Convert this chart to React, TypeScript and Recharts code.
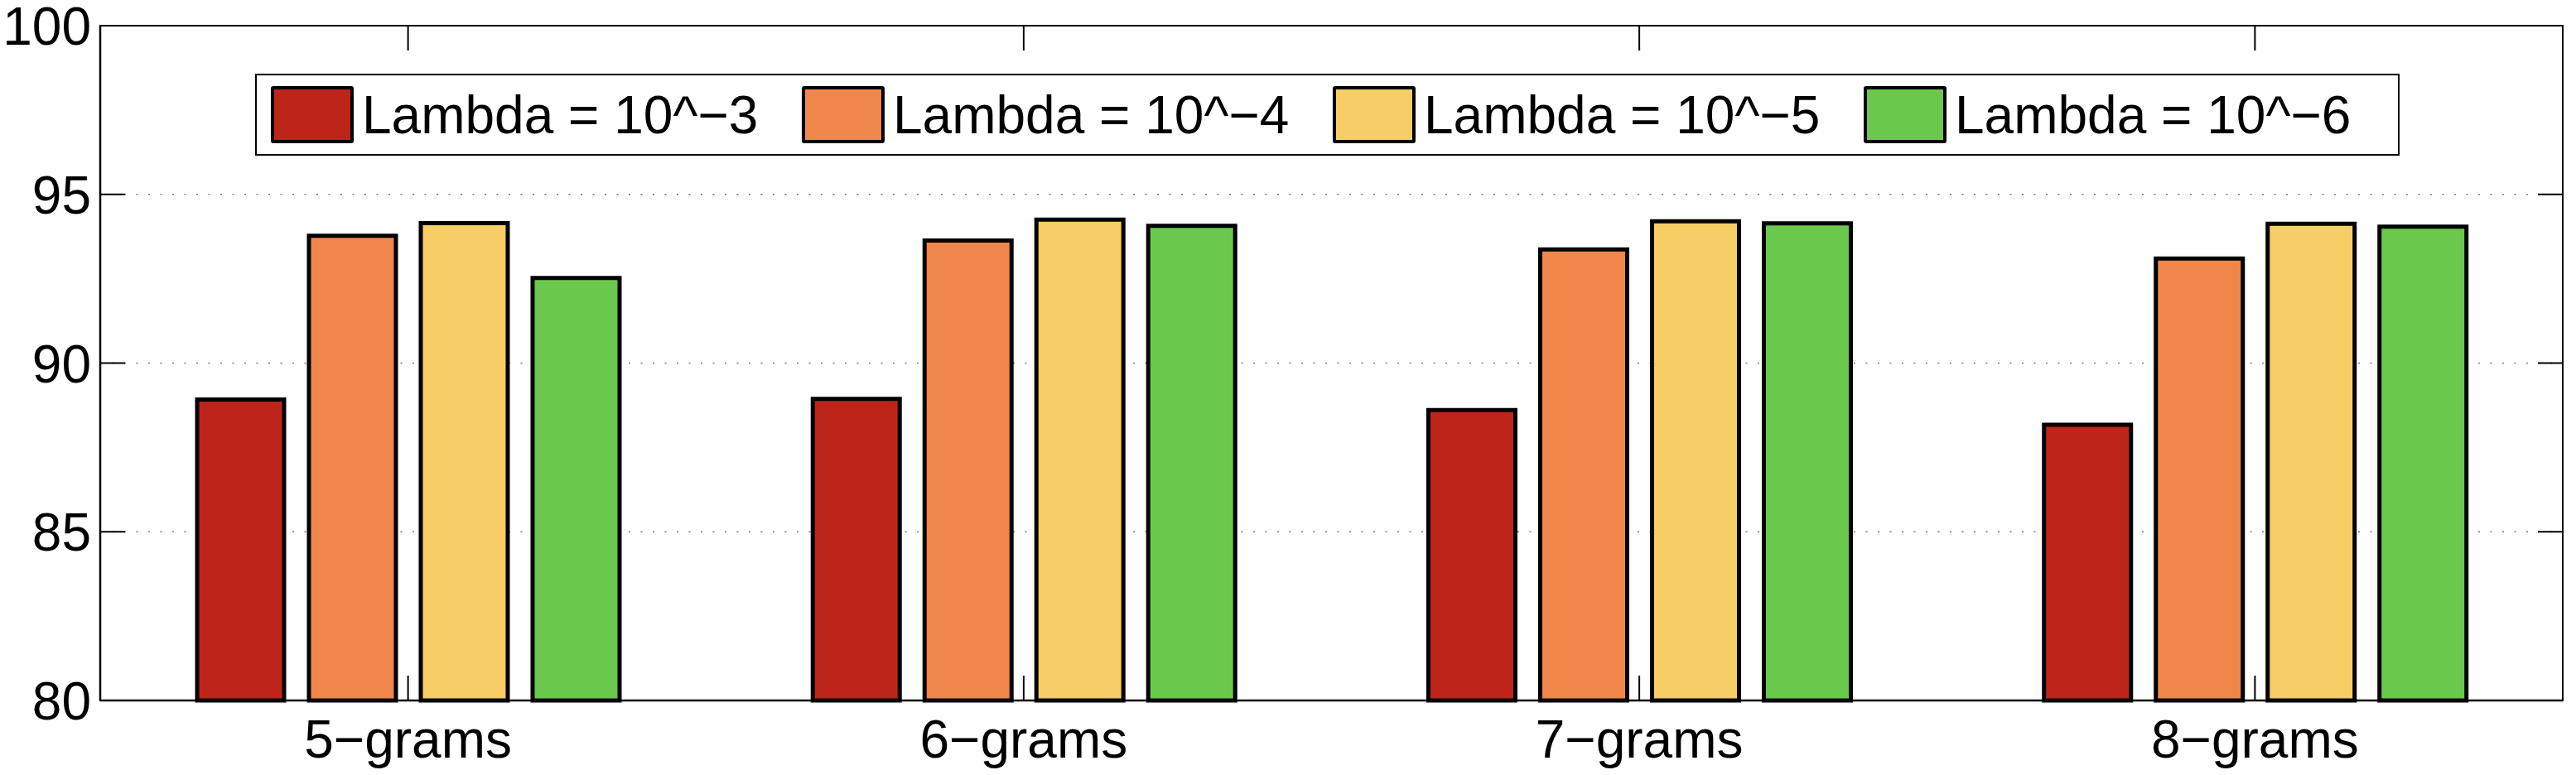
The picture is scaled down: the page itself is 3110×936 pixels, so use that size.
import { BarChart, Bar, XAxis, YAxis, CartesianGrid, Legend } from 'recharts'

const categories = ['5−grams', '6−grams', '7−grams', '8−grams']
const seriesNames = ['Lambda = 10^−3', 'Lambda = 10^−4', 'Lambda = 10^−5', 'Lambda = 10^−6']
const seriesKeys = ['l3', 'l4', 'l5', 'l6']
const seriesColors = ['#BD251B', '#F0874A', '#F7CD66', '#6AC94D']

const lambda3 = [88.92, 88.94, 88.61, 88.17]
const lambda4 = [93.77, 93.63, 93.37, 93.1]
const lambda5 = [94.15, 94.25, 94.2, 94.13]
const lambda6 = [92.52, 94.07, 94.14, 94.04]

const yTicks = [80, 85, 90, 95, 100]

const data = categories.map((name, i) => ({
  name,
  l3: lambda3[i],
  l4: lambda4[i],
  l5: lambda5[i],
  l6: lambda6[i],
}))

const FONT = '"Liberation Sans", Arial, Helvetica, sans-serif'
const W = 3110
const H = 936
const M = { top: 31, right: 16, bottom: 0, left: 0 }
const Y_AXIS_W = 121
const X_AXIS_H = 90
const PLOT_TOP = M.top
const PLOT_RIGHT = W - M.right
const TICK_LEN = 30

// matlab style: tick marks point inward, mirrored on the top edge
const XTick = ({ x, y, payload }: any) => (
  <g>
    <line x1={x} y1={y} x2={x} y2={y - TICK_LEN} stroke="#000" strokeWidth={2} />
    <line x1={x} y1={PLOT_TOP} x2={x} y2={PLOT_TOP + TICK_LEN} stroke="#000" strokeWidth={2} />
    <text x={x} y={y + 69} textAnchor="middle" fontSize={64} fontFamily={FONT} fill="#000">
      {payload.value}
    </text>
  </g>
)

// and on the right edge
const YTick = ({ x, y, payload }: any) => (
  <g>
    <line x1={x} y1={y} x2={x + TICK_LEN} y2={y} stroke="#000" strokeWidth={2} />
    <line x1={PLOT_RIGHT - TICK_LEN} y1={y} x2={PLOT_RIGHT} y2={y} stroke="#000" strokeWidth={2} />
    <text x={x - 11} y={y + 23} textAnchor="end" fontSize={64} fontFamily={FONT} fill="#000">
      {payload.value}
    </text>
  </g>
)

const LegendBox = () => (
  <div style={{
    width: 2589,
    height: 99,
    boxSizing: 'border-box',
    border: '2.5px solid #000',
    background: '#fff',
    display: 'flex',
    alignItems: 'center',
    paddingLeft: 17,
    fontFamily: FONT,
    fontSize: 64,
    color: '#000',
  }}>
    {seriesNames.map((n, i) => (
      <div key={n} style={{ display: 'flex', alignItems: 'center', width: i < 3 ? 641 : undefined }}>
        <div style={{
          width: 100,
          height: 69,
          boxSizing: 'border-box',
          border: '4.5px solid #000',
          borderRadius: 3,
          background: seriesColors[i],
        }} />
        <span style={{ marginLeft: 10, lineHeight: 1, whiteSpace: 'nowrap' }}>{n}</span>
      </div>
    ))}
  </div>
)

export default function App() {
  return (
    <div style={{ position: 'absolute', left: 0, top: 0, width: W, height: H, background: '#fff' }}>
      <BarChart
        width={W}
        height={H}
        data={data}
        margin={M}
        barCategoryGap={117}
        barGap={30}
      >
        <CartesianGrid vertical={false} stroke="#777" strokeWidth={1.5} strokeDasharray="2 12.5" />
        <XAxis
          dataKey="name"
          height={X_AXIS_H}
          interval={0}
          tickSize={0}
          tickMargin={0}
          tickLine={false}
          tick={<XTick />}
          axisLine={{ stroke: '#000', strokeWidth: 2.5 }}
        />
        <YAxis
          type="number"
          domain={[80, 100]}
          ticks={yTicks}
          interval={0}
          width={Y_AXIS_W}
          tickSize={0}
          tickMargin={0}
          tickLine={false}
          tick={<YTick />}
          axisLine={{ stroke: '#000', strokeWidth: 2.5 }}
        />
        <Legend
          content={<LegendBox />}
          layout="vertical"
          align="center"
          verticalAlign="middle"
          wrapperStyle={{ left: 308, top: 89, width: 2589 }}
        />
        {seriesKeys.map((k, i) => (
          <Bar
            key={k}
            dataKey={k}
            name={seriesNames[i]}
            fill={seriesColors[i]}
            stroke="#000"
            strokeWidth={5}
            isAnimationActive={false}
          />
        ))}
      </BarChart>
      {/* box around the plot area */}
      <div style={{
        position: 'absolute',
        left: Y_AXIS_W - 1,
        top: PLOT_TOP - 1,
        width: PLOT_RIGHT - Y_AXIS_W + 2,
        height: H - X_AXIS_H - PLOT_TOP + 2,
        boxSizing: 'border-box',
        border: '2.5px solid #000',
        pointerEvents: 'none',
      }} />
    </div>
  )
}
